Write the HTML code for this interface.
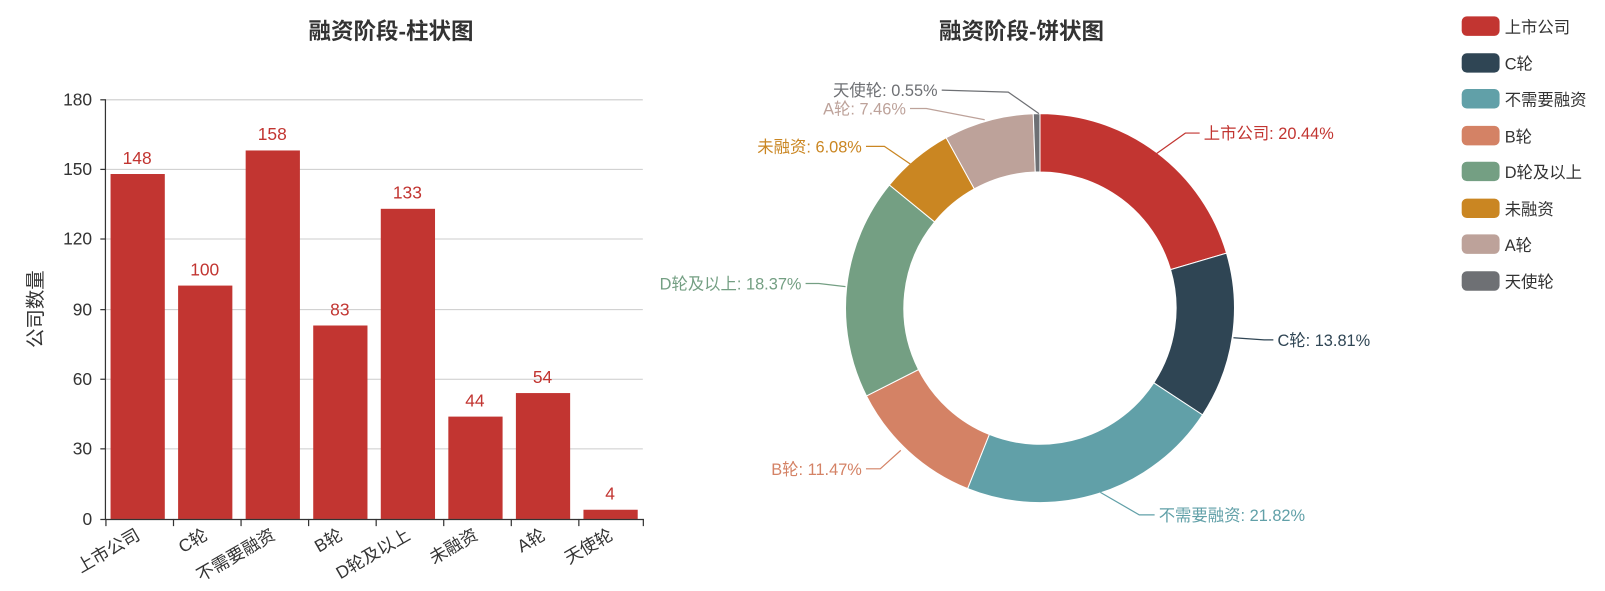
<!DOCTYPE html>
<html><head><meta charset="utf-8"><style>
html,body{margin:0;padding:0;background:#fff;}
svg{display:block;font-family:"Liberation Sans","Noto Sans CJK SC",sans-serif;}
</style></head><body>
<svg id="s" width="1605" height="591" viewBox="0 0 1605 591">
<g transform="scale(1.0236)">
<text x="382" y="38" text-anchor="middle" font-size="22" font-weight="bold" fill="#333">融资阶段-柱状图</text>
<text x="998" y="38" text-anchor="middle" font-size="22" font-weight="bold" fill="#333">融资阶段-饼状图</text>
<g stroke="#ccc" stroke-width="1">
<line x1="103" y1="97.5" x2="628" y2="97.5"/><line x1="103" y1="165.5" x2="628" y2="165.5"/>
<line x1="103" y1="233.5" x2="628" y2="233.5"/><line x1="103" y1="302.5" x2="628" y2="302.5"/>
<line x1="103" y1="370.5" x2="628" y2="370.5"/><line x1="103" y1="438.5" x2="628" y2="438.5"/>
</g>
<g fill="#c23531">
<rect x="108" y="170" width="53" height="337"/>
<rect x="174" y="279" width="53" height="228"/>
<rect x="240" y="147" width="53" height="360"/>
<rect x="306" y="318" width="53" height="189"/>
<rect x="372" y="204" width="53" height="303"/>
<rect x="438" y="407" width="53" height="100"/>
<rect x="504" y="384" width="53" height="123"/>
<rect x="570" y="498" width="53" height="9"/>
</g>
<g fill="#c23531" font-size="17" text-anchor="middle">
<text x="134" y="160">148</text><text x="200" y="269">100</text><text x="266" y="137">158</text>
<text x="332" y="308">83</text><text x="398" y="194">133</text><text x="464" y="397">44</text>
<text x="530" y="374">54</text><text x="596" y="488">4</text>
</g>
<g stroke="#333" stroke-width="1.2">
<line x1="103" y1="97" x2="103" y2="508"/><line x1="103" y1="507.5" x2="629" y2="507.5"/>
<line x1="98" y1="97.5" x2="103" y2="97.5"/><line x1="98" y1="165.5" x2="103" y2="165.5"/>
<line x1="98" y1="233.5" x2="103" y2="233.5"/><line x1="98" y1="302.5" x2="103" y2="302.5"/>
<line x1="98" y1="370.5" x2="103" y2="370.5"/><line x1="98" y1="438.5" x2="103" y2="438.5"/>
<line x1="98" y1="507.5" x2="103" y2="507.5"/>
<line x1="103.5" y1="507" x2="103.5" y2="514"/><line x1="169.5" y1="507" x2="169.5" y2="514"/>
<line x1="235.5" y1="507" x2="235.5" y2="514"/><line x1="301.5" y1="507" x2="301.5" y2="514"/>
<line x1="367.5" y1="507" x2="367.5" y2="514"/><line x1="433.5" y1="507" x2="433.5" y2="514"/>
<line x1="499.5" y1="507" x2="499.5" y2="514"/><line x1="565.5" y1="507" x2="565.5" y2="514"/>
<line x1="628.5" y1="507" x2="628.5" y2="514"/>
</g>
<g fill="#333" font-size="17" text-anchor="end">
<text x="90" y="103">180</text><text x="90" y="171">150</text><text x="90" y="239">120</text>
<text x="90" y="308">90</text><text x="90" y="376">60</text><text x="90" y="444">30</text><text x="90" y="513">0</text>
</g>
<text transform="translate(41,302) rotate(-90)" text-anchor="middle" font-size="19" fill="#333">公司数量</text>
<g fill="#333" font-size="17" text-anchor="end">
<text transform="translate(138,526) rotate(-30)">上市公司</text>
<text transform="translate(204,526) rotate(-30)">C轮</text>
<text transform="translate(270,526) rotate(-30)">不需要融资</text>
<text transform="translate(336,526) rotate(-30)">B轮</text>
<text transform="translate(402,526) rotate(-30)">D轮及以上</text>
<text transform="translate(468,526) rotate(-30)">未融资</text>
<text transform="translate(534,526) rotate(-30)">A轮</text>
<text transform="translate(600,526) rotate(-30)">天使轮</text>
</g>
<g id="pie"></g>
<g fill="none" stroke-width="1.2">
<polyline points="1130,150 1158,130 1172,130" stroke="#c23531"/>
<polyline points="1205,330 1235,332 1244,332" stroke="#2f4554"/>
<polyline points="1075,481 1113,503 1128,503" stroke="#61a0a8"/>
<polyline points="880,440 860,458 846,458" stroke="#d48265"/>
<polyline points="826,280 800,277 787,277" stroke="#749f83"/>
<polyline points="892,162 864,143 846,143" stroke="#ca8622"/>
<polyline points="962,117 905,106 889,106" stroke="#bda29a"/>
<polyline points="1015,111 985,90 920,88" stroke="#6e7074"/>
</g>
<g font-size="16">
<text x="1176" y="136" fill="#c23531">上市公司: 20.44%</text>
<text x="1248" y="338" fill="#2f4554">C轮: 13.81%</text>
<text x="1132" y="509" fill="#61a0a8">不需要融资: 21.82%</text>
<text x="842" y="464" fill="#d48265" text-anchor="end">B轮: 11.47%</text>
<text x="783" y="283" fill="#749f83" text-anchor="end">D轮及以上: 18.37%</text>
<text x="842" y="149" fill="#ca8622" text-anchor="end">未融资: 6.08%</text>
<text x="885" y="112" fill="#bda29a" text-anchor="end">A轮: 7.46%</text>
<text x="916" y="94" fill="#6e7074" text-anchor="end">天使轮: 0.55%</text>
</g>
<g>
<rect x="1428" y="16" width="37" height="19" rx="5" fill="#c23531"/>
<rect x="1428" y="52" width="37" height="19" rx="5" fill="#2f4554"/>
<rect x="1428" y="87" width="37" height="19" rx="5" fill="#61a0a8"/>
<rect x="1428" y="123" width="37" height="19" rx="5" fill="#d48265"/>
<rect x="1428" y="158" width="37" height="19" rx="5" fill="#749f83"/>
<rect x="1428" y="194" width="37" height="19" rx="5" fill="#ca8622"/>
<rect x="1428" y="229" width="37" height="19" rx="5" fill="#bda29a"/>
<rect x="1428" y="265" width="37" height="19" rx="5" fill="#6e7074"/>
</g>
<g font-size="16" fill="#333">
<text x="1470" y="32">上市公司</text><text x="1470" y="68">C轮</text><text x="1470" y="103">不需要融资</text>
<text x="1470" y="139">B轮</text><text x="1470" y="174">D轮及以上</text><text x="1470" y="210">未融资</text>
<text x="1470" y="245">A轮</text><text x="1470" y="281">天使轮</text>
</g>
</g>
</svg>
<script>
(function(){
var p=[20.44,13.81,21.82,11.47,18.37,6.08,7.46,0.55];
var c=["#c23531","#2f4554","#61a0a8","#d48265","#749f83","#ca8622","#bda29a","#6e7074"];
var cx=1016,cy=301,R=190,r=133,a=0,g=document.getElementById("pie"),h="";
function pt(rad,ang){var t=ang/100*2*Math.PI;return [cx+rad*Math.sin(t),cy-rad*Math.cos(t)];}
for(var i=0;i<p.length;i++){var b=a+p[i],l=p[i]>50?1:0;
var A=pt(R,a),B=pt(R,b),C=pt(r,b),D=pt(r,a);
h+='<path fill="'+c[i]+'" stroke="#fff" stroke-width="1" d="M'+A+' A'+R+','+R+' 0 '+l+' 1 '+B+' L'+C+' A'+r+','+r+' 0 '+l+' 0 '+D+' Z"/>';a=b;}
g.innerHTML=h;
})();
</script>
</body></html>
